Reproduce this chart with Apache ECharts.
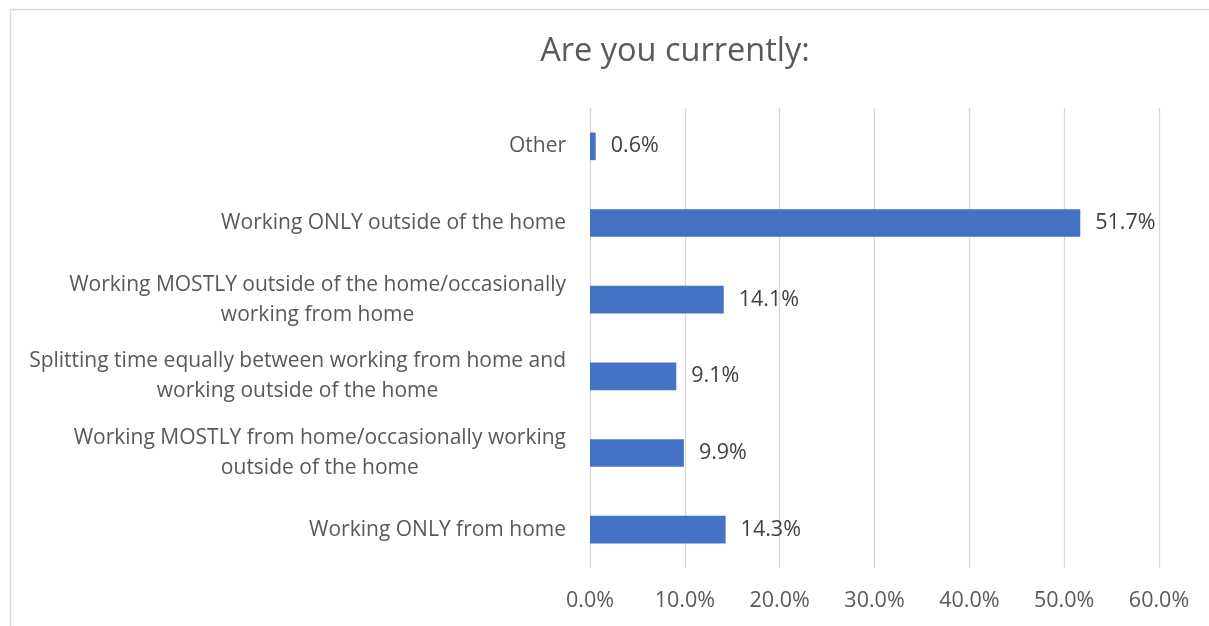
<!DOCTYPE html>
<html>
<head>
<meta charset="utf-8">
<script src="https://cdn.jsdelivr.net/npm/echarts@6/dist/echarts.min.js"></script>
<style>
  html, body { margin: 0; padding: 0; background: #ffffff; }
  #chart { width: 1209px; height: 626px; }
</style>
</head>
<body>
<div id="chart"></div>
<script>
// Survey answers, listed bottom to top as they appear on the category axis
const categories = [
  "Working ONLY from home",
  "Working MOSTLY from home/occasionally working\noutside of the home",
  "Splitting time equally between working from home and\nworking outside of the home",
  "Working MOSTLY outside of the home/occasionally\nworking from home",
  "Working ONLY outside of the home",
  "Other"
];
// Share of respondents, in percent
const shares = [14.3, 9.9, 9.1, 14.1, 51.7, 0.6];
// Value axis range and step (percent)
const axisMin = 0;
const axisMax = 60;
const axisStep = 10;

const FONT = '"Open Sans", "Noto Sans", sans-serif';

const chart = echarts.init(document.getElementById('chart'), null, { renderer: 'canvas' });

chart.setOption({
  backgroundColor: '#ffffff',
  animation: false,
  title: {
    text: 'Are you currently:',
    left: 670,
    top: 30,
    textAlign: 'center',
    textStyle: { fontFamily: FONT, fontSize: 32.5, fontWeight: 'normal', color: '#595959' }
  },
  graphic: [{
    type: 'rect',
    shape: { x: 10.5, y: 9.5, width: 1230, height: 660 },
    style: { fill: 'none', stroke: '#d9d9d9', lineWidth: 1.5 },
    silent: true,
    z: -10
  }],
  grid: { left: 590, right: 50, top: 108, bottom: 58, containLabel: false, outerBoundsMode: 'none' },
  xAxis: {
    type: 'value',
    min: axisMin,
    max: axisMax,
    interval: axisStep,
    axisLine: { show: false },
    axisTick: { show: false },
    splitLine: { show: true, lineStyle: { color: '#d9d9d9', width: 1.3 } },
    axisLabel: {
      margin: 22,
      color: '#595959',
      fontFamily: FONT,
      fontSize: 21.5,
      formatter: v => v.toFixed(1) + '%'
    }
  },
  yAxis: {
    type: 'category',
    data: categories,
    axisLine: { show: false },
    axisTick: { show: false },
    axisLabel: {
      margin: 24,
      color: '#595959',
      fontFamily: FONT,
      fontSize: 21,
      formatter: v => v.split('\n').map(line => '{c|' + line + '}').join('\n'),
      rich: {
        c: { align: 'center', color: '#595959', fontFamily: FONT, fontSize: 21, lineHeight: 30 }
      }
    }
  },
  series: [{
    type: 'bar',
    data: shares,
    barCategoryGap: '64%',
    itemStyle: { color: '#4472c4' },
    label: {
      show: true,
      position: 'right',
      distance: 15,
      color: '#404040',
      fontFamily: FONT,
      fontSize: 21.5,
      formatter: p => p.value.toFixed(1) + '%'
    }
  }]
});
</script>
</body>
</html>
